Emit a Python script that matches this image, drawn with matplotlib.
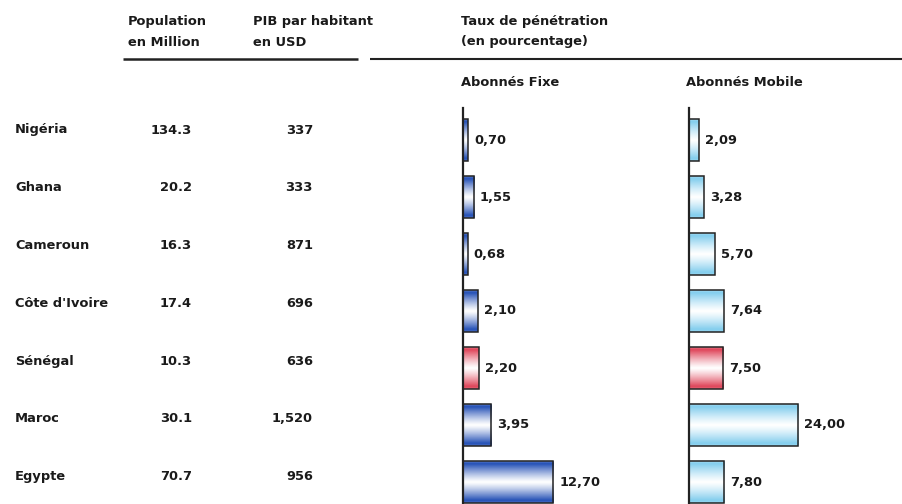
import numpy as np
import matplotlib
matplotlib.use("Agg")
import matplotlib.pyplot as plt
from matplotlib.colors import LinearSegmentedColormap

# ---- data ----
countries = ["Nigéria", "Ghana", "Cameroun", "Côte d'Ivoire", "Sénégal", "Maroc", "Egypte"]
population = ["134.3", "20.2", "16.3", "17.4", "10.3", "30.1", "70.7"]
pib = ["337", "333", "871", "696", "636", "1,520", "956"]
fixe = [0.70, 1.55, 0.68, 2.10, 2.20, 3.95, 12.70]
mobile = [2.09, 3.28, 5.70, 7.64, 7.50, 24.00, 7.80]
highlight = "Sénégal"

W, H = 902, 504
DPI = 100
fig = plt.figure(figsize=(W / DPI, H / DPI), dpi=DPI)
fig.patch.set_facecolor("white")

FONT = "DejaVu Sans"
FS = 9.4
TXT = "#1a1a1a"

# overlay axes in pixel coordinates
ov = fig.add_axes([0, 0, 1, 1])
ov.set_xlim(0, W)
ov.set_ylim(H, 0)
ov.axis("off")

# headers
hdr = dict(fontsize=FS, fontfamily=FONT, fontweight="semibold", color=TXT, va="center", ha="left")
ov.text(128, 22, "Population", **hdr)
ov.text(128, 42, "en Million", **hdr)
ov.text(253, 22, "PIB par habitant", **hdr)
ov.text(253, 42, "en USD", **hdr)
ov.text(461, 22, "Taux de pénétration", **hdr)
ov.text(461, 42, "(en pourcentage)", **hdr)
ov.text(461, 82, "Abonnés Fixe", **hdr)
ov.text(686, 82, "Abonnés Mobile", **hdr)
ov.plot([123, 358], [59, 59], color="#222222", lw=1.8, solid_capstyle="butt")
ov.plot([370, 902], [59, 59], color="#222222", lw=1.5, solid_capstyle="butt")

# table rows
row_y0, row_dy = 130, 57.8
for i, c in enumerate(countries):
    y = row_y0 + row_dy * i
    ov.text(15, y, c, **hdr)
    ov.text(192, y, population[i], fontsize=FS, fontfamily=FONT, fontweight="semibold",
            color=TXT, va="center", ha="right")
    ov.text(313, y, pib[i], fontsize=FS, fontfamily=FONT, fontweight="semibold",
            color=TXT, va="center", ha="right")

# gradient helper
def grad_cmap(base):
    return LinearSegmentedColormap.from_list("g", ["white", base])

t = np.linspace(0, 1, 64)
prof = np.clip(np.abs(2 * t - 1) * 1.15, 0, 1) ** 1.2
prof[:2] *= 0.7
prof[-2:] *= 0.8
grad = prof.reshape(-1, 1)

cm_fixe = grad_cmap("#2a55b8")
cm_mob = grad_cmap("#86cfee")
cm_red = grad_cmap("#e04a5e")

bar_top, bar_bot = 108, 504
y0b, dyb = 140, 57
bh = 42 / 57
ytop = (bar_top - y0b) / dyb
ybot = (bar_bot - y0b) / dyb

def bar_panel(x_px, w_px, px_per_unit, values, cmap, fmt):
    ax = fig.add_axes([x_px / W, 1 - bar_bot / H, w_px / W, (bar_bot - bar_top) / H])
    for s in ["top", "right", "bottom"]:
        ax.spines[s].set_visible(False)
    ax.spines["left"].set_linewidth(1.6)
    ax.spines["left"].set_color("#222222")
    ax.set_xticks([])
    ax.set_yticks([])
    ax.patch.set_alpha(0)
    ypos = np.arange(len(values))
    for i, v in enumerate(values):
        cm = cm_red if countries[i] == highlight else cmap
        ax.imshow(grad, cmap=cm, vmin=0, vmax=1, aspect="auto",
                  extent=(0, v, ypos[i] + bh / 2, ypos[i] - bh / 2),
                  interpolation="bilinear", zorder=1)
    ax.barh(ypos, values, height=bh, facecolor="none", edgecolor="#222222",
            linewidth=1.1, zorder=2)
    for i, v in enumerate(values):
        ax.text(v + 6 / px_per_unit, ypos[i], fmt(v), fontsize=FS, fontfamily=FONT,
                fontweight="semibold", color=TXT, va="center", ha="left")
    ax.set_xlim(0, w_px / px_per_unit)
    ax.set_ylim(ybot, ytop)
    return ax

fmt = lambda v: f"{v:.2f}".replace(".", ",")
bar_panel(463, 210, 7.1, fixe, cm_fixe, fmt)
bar_panel(689, 210, 4.55, mobile, cm_mob, fmt)

fig.savefig("out.png", dpi=DPI, facecolor="white")
